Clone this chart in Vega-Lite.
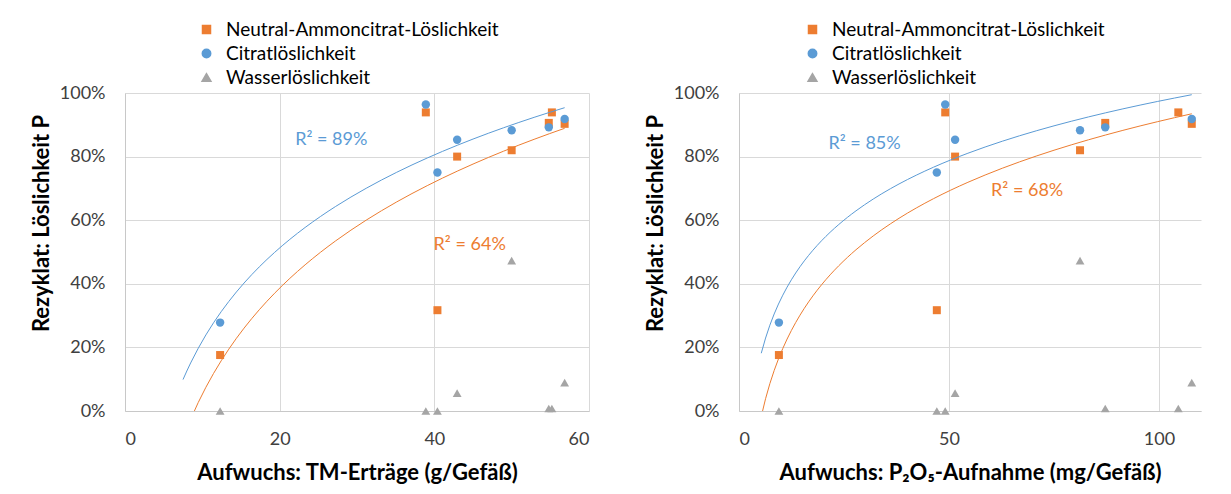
{
  "$schema": "https://vega.github.io/schema/vega-lite/v6.json",
  "background": "white",
  "padding": {"left": 30, "top": 20, "right": 5, "bottom": 5},
  "spacing": 55,
  "datasets": {
    "pts": [
      {"TM": 12.3, "P": 9.5, "Serie": "Neutral-Ammoncitrat-Löslichkeit", "Wert": 0.176},
      {"TM": 38.9, "P": 49.1, "Serie": "Neutral-Ammoncitrat-Löslichkeit", "Wert": 0.939},
      {"TM": 40.4, "P": 47.1, "Serie": "Neutral-Ammoncitrat-Löslichkeit", "Wert": 0.317},
      {"TM": 42.95, "P": 51.45, "Serie": "Neutral-Ammoncitrat-Löslichkeit", "Wert": 0.8},
      {"TM": 50.0, "P": 81.2, "Serie": "Neutral-Ammoncitrat-Löslichkeit", "Wert": 0.82},
      {"TM": 54.8, "P": 87.2, "Serie": "Neutral-Ammoncitrat-Löslichkeit", "Wert": 0.906},
      {"TM": 55.2, "P": 104.6, "Serie": "Neutral-Ammoncitrat-Löslichkeit", "Wert": 0.939},
      {"TM": 56.85, "P": 107.8, "Serie": "Neutral-Ammoncitrat-Löslichkeit", "Wert": 0.903},
      {"TM": 12.3, "P": 9.5, "Serie": "Citratlöslichkeit", "Wert": 0.278},
      {"TM": 38.9, "P": 49.1, "Serie": "Citratlöslichkeit", "Wert": 0.964},
      {"TM": 40.4, "P": 47.1, "Serie": "Citratlöslichkeit", "Wert": 0.75},
      {"TM": 42.95, "P": 51.45, "Serie": "Citratlöslichkeit", "Wert": 0.853},
      {"TM": 50.0, "P": 81.2, "Serie": "Citratlöslichkeit", "Wert": 0.883},
      {"TM": 54.8, "P": 87.2, "Serie": "Citratlöslichkeit", "Wert": 0.892},
      {"TM": 56.85, "P": 107.8, "Serie": "Citratlöslichkeit", "Wert": 0.918},
      {"TM": 12.3, "P": 9.5, "Serie": "Wasserlöslichkeit", "Wert": 0.0},
      {"TM": 38.9, "P": 49.1, "Serie": "Wasserlöslichkeit", "Wert": 0.0},
      {"TM": 40.4, "P": 47.1, "Serie": "Wasserlöslichkeit", "Wert": 0.0},
      {"TM": 42.95, "P": 51.45, "Serie": "Wasserlöslichkeit", "Wert": 0.056},
      {"TM": 50.0, "P": 81.2, "Serie": "Wasserlöslichkeit", "Wert": 0.473},
      {"TM": 54.8, "P": 87.2, "Serie": "Wasserlöslichkeit", "Wert": 0.008},
      {"TM": 55.2, "P": 104.6, "Serie": "Wasserlöslichkeit", "Wert": 0.008},
      {"TM": 56.85, "P": 107.8, "Serie": "Wasserlöslichkeit", "Wert": 0.089}
    ],
    "r2TM": [
      {"TM": 22.0, "Wert": 0.853, "Serie": "Citratlöslichkeit", "label": "R² = 89%"},
      {"TM": 39.9, "Wert": 0.521, "Serie": "Neutral-Ammoncitrat-Löslichkeit", "label": "R² = 64%"}
    ],
    "r2P": [
      {"P": 21.3, "Wert": 0.841, "Serie": "Citratlöslichkeit", "label": "R² = 85%"},
      {"P": 60.0, "Wert": 0.691, "Serie": "Neutral-Ammoncitrat-Löslichkeit", "label": "R² = 68%"}
    ]
  },
  "hconcat": [
    {
      "width": 464,
      "height": 318,
      "layer": [
        {
          "data": {"name": "pts"},
          "mark": {"type": "point", "filled": true, "opacity": 1},
          "encoding": {
            "x": {"field": "TM", "type": "quantitative", "scale": {"domain": [0, 60], "nice": false}, "axis": {"values": [0, 20, 40, 60], "title": "Aufwuchs: TM-Erträge (g/Gefäß)"}},
            "y": {"field": "Wert", "type": "quantitative", "scale": {"domain": [0, 1], "nice": false}, "axis": {"title": "Rezyklat: Löslichkeit P", "values": [0, 0.2, 0.4, 0.6, 0.8, 1], "format": ".0%"}},
            "color": {"field": "Serie", "type": "nominal", "scale": {"domain": ["Neutral-Ammoncitrat-Löslichkeit", "Citratlöslichkeit", "Wasserlöslichkeit"], "range": ["#ED7D31", "#5B9BD5", "#A5A5A5"]}, "legend": {"orient": "none", "legendX": 72, "legendY": -73, "direction": "vertical", "title": null}},
            "shape": {"field": "Serie", "type": "nominal", "scale": {"domain": ["Neutral-Ammoncitrat-Löslichkeit", "Citratlöslichkeit", "Wasserlöslichkeit"], "range": ["square", "circle", "triangle-up"]}, "legend": {"orient": "none", "legendX": 72, "legendY": -73, "direction": "vertical", "title": null}},
            "size": {"field": "Serie", "type": "nominal", "scale": {"domain": ["Neutral-Ammoncitrat-Löslichkeit", "Citratlöslichkeit", "Wasserlöslichkeit"], "range": [64, 78, 55]}, "legend": null}
          }
        },
        {
          "data": {"name": "pts"},
          "transform": [
            {"filter": {"field": "Serie", "oneOf": ["Neutral-Ammoncitrat-Löslichkeit", "Citratlöslichkeit"]}},
            {"regression": "Wert", "on": "TM", "method": "log", "groupby": ["Serie"], "extent": [7.5, 56.85]}
          ],
          "mark": {"type": "line", "strokeWidth": 1, "clip": true},
          "encoding": {
            "x": {"field": "TM", "type": "quantitative"},
            "y": {"field": "Wert", "type": "quantitative"},
            "color": {"field": "Serie", "type": "nominal", "legend": null}
          }
        },
        {
          "data": {"name": "r2TM"},
          "mark": {"type": "text", "align": "left", "baseline": "middle", "fontSize": 18, "font": "Lato"},
          "encoding": {
            "x": {"field": "TM", "type": "quantitative"},
            "y": {"field": "Wert", "type": "quantitative"},
            "text": {"field": "label"},
            "color": {"field": "Serie", "type": "nominal", "legend": null}
          }
        }
      ]
    },
    {
      "width": 462,
      "height": 318,
      "layer": [
        {
          "data": {"name": "pts"},
          "mark": {"type": "point", "filled": true, "opacity": 1},
          "encoding": {
            "x": {"field": "P", "type": "quantitative", "scale": {"domain": [0, 110], "nice": false}, "axis": {"values": [0, 50, 100], "title": "Aufwuchs: P₂O₅-Aufnahme (mg/Gefäß)"}},
            "y": {"field": "Wert", "type": "quantitative", "scale": {"domain": [0, 1], "nice": false}, "axis": {"title": "Rezyklat: Löslichkeit P", "values": [0, 0.2, 0.4, 0.6, 0.8, 1], "format": ".0%"}},
            "color": {"field": "Serie", "type": "nominal", "scale": {"domain": ["Neutral-Ammoncitrat-Löslichkeit", "Citratlöslichkeit", "Wasserlöslichkeit"], "range": ["#ED7D31", "#5B9BD5", "#A5A5A5"]}, "legend": {"orient": "none", "legendX": 64, "legendY": -73, "direction": "vertical", "title": null}},
            "shape": {"field": "Serie", "type": "nominal", "scale": {"domain": ["Neutral-Ammoncitrat-Löslichkeit", "Citratlöslichkeit", "Wasserlöslichkeit"], "range": ["square", "circle", "triangle-up"]}, "legend": {"orient": "none", "legendX": 64, "legendY": -73, "direction": "vertical", "title": null}},
            "size": {"field": "Serie", "type": "nominal", "scale": {"domain": ["Neutral-Ammoncitrat-Löslichkeit", "Citratlöslichkeit", "Wasserlöslichkeit"], "range": [64, 78, 55]}, "legend": null}
          }
        },
        {
          "data": {"name": "pts"},
          "transform": [
            {"filter": {"field": "Serie", "oneOf": ["Neutral-Ammoncitrat-Löslichkeit", "Citratlöslichkeit"]}},
            {"regression": "Wert", "on": "P", "method": "log", "groupby": ["Serie"], "extent": [5.3, 107.8]}
          ],
          "mark": {"type": "line", "strokeWidth": 1, "clip": true},
          "encoding": {
            "x": {"field": "P", "type": "quantitative"},
            "y": {"field": "Wert", "type": "quantitative"},
            "color": {"field": "Serie", "type": "nominal", "legend": null}
          }
        },
        {
          "data": {"name": "r2P"},
          "mark": {"type": "text", "align": "left", "baseline": "middle", "fontSize": 18, "font": "Lato"},
          "encoding": {
            "x": {"field": "P", "type": "quantitative"},
            "y": {"field": "Wert", "type": "quantitative"},
            "text": {"field": "label"},
            "color": {"field": "Serie", "type": "nominal", "legend": null}
          }
        }
      ]
    }
  ],
  "resolve": {"scale": {"color": "independent", "shape": "independent", "size": "independent"}},
  "config": {
    "font": "Lato",
    "view": {"stroke": null},
    "axis": {
      "labelFont": "Lato",
      "labelFontSize": 18,
      "labelColor": "#404040",
      "titleFont": "Lato",
      "titleFontSize": 22,
      "titleFontWeight": "bold",
      "titleColor": "#000000",
      "gridColor": "#D9D9D9",
      "gridWidth": 1,
      "domainColor": "#C8C8C8",
      "ticks": false
    },
    "axisX": {"labelPadding": 19, "titlePadding": 14, "labelAngle": 0},
    "axisY": {"labelPadding": 20, "titlePadding": 6, "titleY": 130},
    "legend": {"labelFont": "Lato", "labelFontSize": 19, "labelColor": "#000000", "labelLimit": 500, "symbolSize": 50, "labelOffset": 10, "rowPadding": 4, "padding": 0}
  }
}
